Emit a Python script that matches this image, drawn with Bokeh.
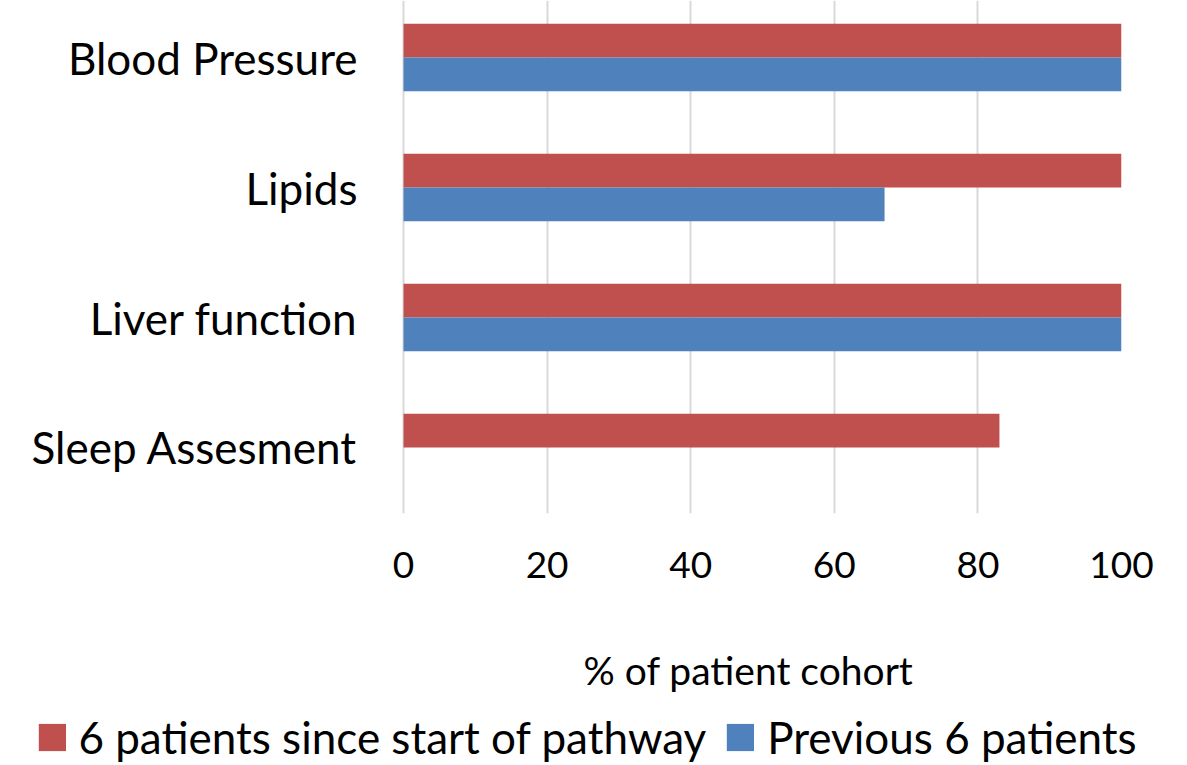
from bokeh.plotting import figure
from bokeh.models import Range1d, FixedTicker, Legend, LegendItem, ColumnDataSource
from bokeh.layouts import column
from bokeh.transform import dodge
from bokeh.embed import file_html
from bokeh.resources import INLINE

categories = ["Blood Pressure", "Lipids", "Liver function", "Sleep Assesment"]
since_start = [100, 100, 100, 83]
previous = [100, 67, 100, 0]
series_names = ["6 patients since start of pathway", "Previous 6 patients"]
series_colors = ["#C0504D", "#4F81BD"]
x_ticks = [0, 20, 40, 60, 80, 100]
x_title = "% of patient cohort"

FONT = "Lato"
W = 1171
n = len(categories)
ypos = [n - 1 - i for i in range(n)]
src = ColumnDataSource(dict(y=ypos, cat=categories, a=since_start, b=previous))

# ---------------- main chart ----------------
p = figure(width=W, height=710, output_backend="svg", toolbar_location=None,
           x_range=Range1d(-3.9, 100), y_range=Range1d(-0.5077, 3.4385),
           min_border_left=375, min_border_right=50, min_border_top=0,
           min_border_bottom=197)
p.outline_line_color = None
p.background_fill_color = "white"

for off, col_name, color in ((0.13, 'a', series_colors[0]), (-0.13, 'b', series_colors[1])):
    p.hbar(y=dodge('y', off), left=0, right=col_name, height=0.26, source=src,
           fill_color=color, line_color=None)

p.xaxis.ticker = FixedTicker(ticks=x_ticks)
p.yaxis.ticker = FixedTicker(ticks=ypos)
p.yaxis.major_label_overrides = {y: c for y, c in zip(ypos, categories)}
for ax in (p.xaxis[0], p.yaxis[0]):
    ax.axis_line_color = None
    ax.major_tick_line_color = None
    ax.minor_tick_line_color = None
    ax.major_tick_out = 0
    ax.major_tick_in = 0
    ax.major_label_text_font = FONT
    ax.major_label_text_color = "black"
p.yaxis.major_label_text_font_size = "44px"
p.yaxis.major_label_standoff = 18
p.xaxis.major_label_text_font_size = "37px"
p.xaxis.major_label_standoff = 38
p.xaxis.axis_label = x_title
p.xaxis.axis_label_text_font = FONT
p.xaxis.axis_label_text_font_size = "39px"
p.xaxis.axis_label_text_font_style = "normal"
p.xaxis.axis_label_text_color = "black"
p.xaxis.axis_label_standoff = 66

p.xgrid.ticker = FixedTicker(ticks=x_ticks)
p.xgrid.grid_line_color = "#D9D9D9"
p.xgrid.grid_line_width = 2
p.ygrid.grid_line_color = None

# ---------------- legend strip ----------------
leg = figure(width=W, height=54, output_backend="svg", toolbar_location=None,
             x_range=Range1d(200, 201), y_range=Range1d(200, 201),
             min_border_left=0, min_border_right=0, min_border_top=0,
             min_border_bottom=0)
leg.outline_line_color = None
leg.xaxis.visible = False
leg.yaxis.visible = False
leg.grid.visible = False
lr1 = leg.hbar(y='y', left=0, right='a', height=0.26, source=src,
               fill_color=series_colors[0], line_color=None)
lr2 = leg.hbar(y='y', left=0, right='b', height=0.26, source=src,
               fill_color=series_colors[1], line_color=None)
legend = Legend(items=[LegendItem(label=series_names[0], renderers=[lr1]),
                       LegendItem(label=series_names[1], renderers=[lr2])],
                orientation="horizontal", location="center",
                border_line_color=None, background_fill_alpha=0,
                padding=0, margin=0, spacing=17, label_standoff=10,
                glyph_width=34, glyph_height=34,
                label_text_font=FONT, label_text_font_size="44px",
                label_text_color="black")
leg.add_layout(legend)

# keep each figure's frame independent (no frame alignment in the column)
for f in (p, leg):
    if "frame_align" in f.properties():
        f.frame_align = False

layout = column(p, leg, spacing=0)
open("out.html", "w").write(file_html(layout, INLINE))
